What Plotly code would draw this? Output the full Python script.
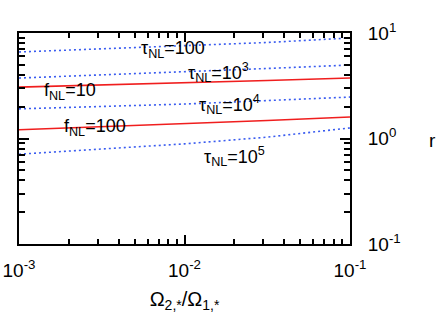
import plotly.graph_objects as go

# data
x_vals = [1e-3, 10**-2.5, 1e-2, 10**-1.5, 1e-1]
f_nl_10 = [3.07, 3.21, 3.36, 3.55, 3.74]
f_nl_100 = [1.21, 1.29, 1.37, 1.48, 1.60]
tau_100 = [6.61, 7.05, 7.53, 8.13, 8.97]
tau_1e3 = [3.74, 4.00, 4.27, 4.61, 4.97]
tau_1e4 = [1.91, 2.01, 2.12, 2.29, 2.47]
tau_1e5 = [0.71, 0.79, 0.89, 1.03, 1.26]

x_ticks = [1e-3, 1e-2, 1e-1]
x_ticktext = ["10<sup>-3</sup>", "10<sup>-2</sup>", "10<sup>-1</sup>"]
y_ticks = [0.1, 1, 10]
y_ticktext = ["10<sup>-1</sup>", "10<sup>0</sup>", "10<sup>1</sup>"]
x_minor = [m * 10**e for e in (-3, -2) for m in range(2, 10)]
y_minor = [m * 10**e for e in (-1, 0) for m in range(2, 10)]

# labels: (text, log10 x, log10 y)
labels = [
    ("τ<sub>NL</sub>=100", -2.269, 0.839),
    ("τ<sub>NL</sub>=10<sup>3</sup>", -1.985, 0.630),
    ("f<sub>NL</sub>=10", -2.855, 0.450),
    ("τ<sub>NL</sub>=10<sup>4</sup>", -1.918, 0.318),
    ("f<sub>NL</sub>=100", -2.734, 0.109),
    ("τ<sub>NL</sub>=10<sup>5</sup>", -1.888, -0.175),
]

FONT = "Liberation Sans"
RED = "#f01e1e"
BLUE = "#3a5cf0"

fig = go.Figure()
for ys in (tau_100, tau_1e3, tau_1e4, tau_1e5):
    fig.add_trace(go.Scatter(x=x_vals, y=ys, mode="lines",
                             line=dict(color=BLUE, width=1.6, dash="2px,3px"),
                             showlegend=False, hoverinfo="skip"))
for ys in (f_nl_10, f_nl_100):
    fig.add_trace(go.Scatter(x=x_vals, y=ys, mode="lines",
                             line=dict(color=RED, width=1.6),
                             showlegend=False, hoverinfo="skip"))

for text, lx, ly in labels:
    fig.add_annotation(x=lx, y=ly, xref="x", yref="y", text=text,
                       showarrow=False, xanchor="left", yanchor="middle",
                       borderpad=0,
                       font=dict(family=FONT, size=18, color="black"))

fig.add_annotation(x=1.248, y=0.49, xref="paper", yref="paper", text="r",
                   showarrow=False, xanchor="center", yanchor="middle",
                   font=dict(family=FONT, size=19, color="black"))

fig.update_layout(
    width=437, height=313,
    margin=dict(l=19, r=87, t=33, b=69),
    plot_bgcolor="white", paper_bgcolor="white",
    font=dict(family=FONT, size=19, color="black"),
    xaxis=dict(type="log", range=[-3, -1], tickmode="array",
               tickvals=x_ticks, ticktext=x_ticktext, automargin=False,
               ticks="inside", ticklen=9, tickwidth=1.5, tickcolor="black",
               showline=True, linewidth=2, linecolor="black", mirror="ticks",
               showgrid=False, zeroline=False, ticklabelstandoff=8,
               minor=dict(tickmode="array", tickvals=x_minor, ticks="inside",
                          ticklen=5, tickwidth=1.5, tickcolor="black", showgrid=False),
               title=dict(text="Ω<sub>2,*</sub>/Ω<sub>1,*</sub>", standoff=12,
                          font=dict(family=FONT, size=20))),
    yaxis=dict(type="log", range=[-1, 1], side="right", tickmode="array",
               tickvals=y_ticks, ticktext=y_ticktext, automargin=False,
               ticks="inside", ticklen=10, tickwidth=1.5, tickcolor="black",
               showline=True, linewidth=2, linecolor="black", mirror="ticks",
               showgrid=False, zeroline=False, ticklabelstandoff=12,
               minor=dict(tickmode="array", tickvals=y_minor, ticks="inside",
                          ticklen=6, tickwidth=1.5, tickcolor="black", showgrid=False)),
)

fig.write_html("out.html", config={"displayModeBar": False},
               post_script="document.body.style.margin='0';document.body.style.overflow='hidden';")
